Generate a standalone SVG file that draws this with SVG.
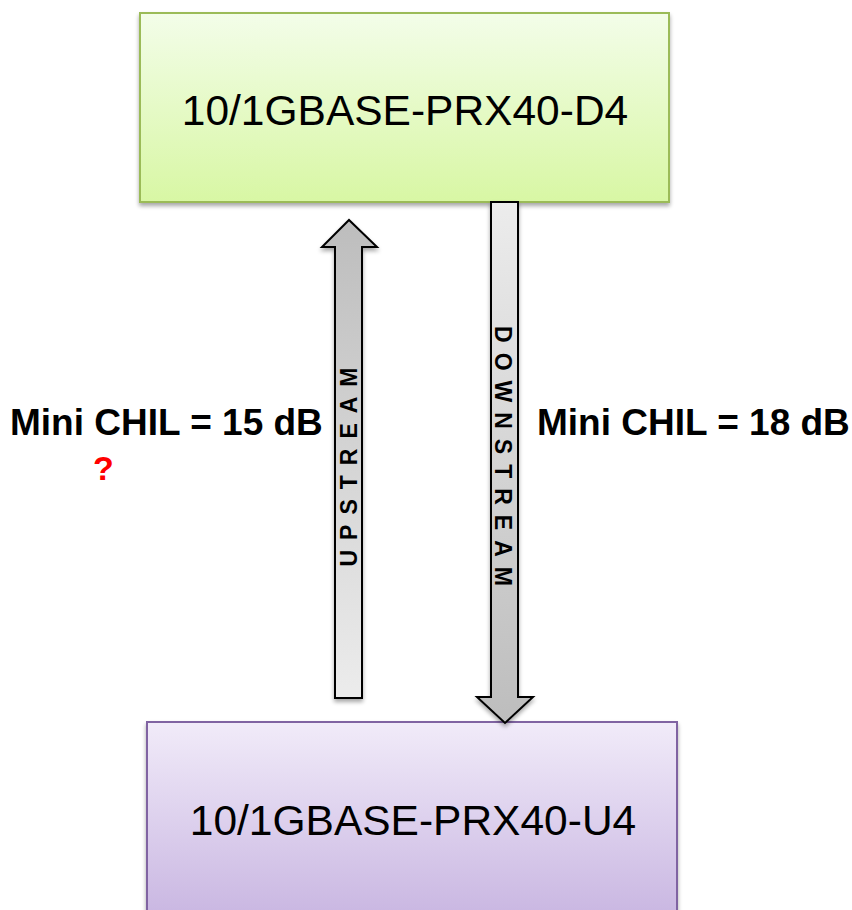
<svg xmlns="http://www.w3.org/2000/svg" width="852" height="910" viewBox="0 0 852 910">
<style>
.box-text{font-family:"Liberation Sans",Arial,sans-serif;font-size:42.5px;fill:#000;text-anchor:middle}
.lbl{font-family:"Liberation Sans",Arial,sans-serif;font-size:37px;font-weight:bold;fill:#000}
.arrow-text{font-family:"Liberation Sans",Arial,sans-serif;font-size:23px;font-weight:bold;fill:#000;letter-spacing:10px;text-anchor:middle}
.arrow{stroke:#000;stroke-width:2;stroke-linejoin:miter}
</style>
<defs>
<linearGradient id="gGreen" x1="0" y1="0" x2="0" y2="1">
<stop offset="0" stop-color="#f3fde9"/>
<stop offset="1" stop-color="#d8f7a4"/>
</linearGradient>
<linearGradient id="gPurple" x1="0" y1="0" x2="0" y2="1">
<stop offset="0" stop-color="#f1ebf9"/>
<stop offset="1" stop-color="#c8b5e1"/>
</linearGradient>
<linearGradient id="gUp" x1="0" y1="0" x2="0" y2="1">
<stop offset="0" stop-color="#bdbdbd"/>
<stop offset="1" stop-color="#ececec"/>
</linearGradient>
<linearGradient id="gDown" x1="0" y1="0" x2="0" y2="1">
<stop offset="0" stop-color="#ececec"/>
<stop offset="1" stop-color="#bdbdbd"/>
</linearGradient>
<filter id="sh" x="-10%" y="-10%" width="120%" height="130%">
<feGaussianBlur in="SourceAlpha" stdDeviation="2"/>
<feOffset dx="0" dy="3" result="b"/>
<feComponentTransfer><feFuncA type="linear" slope="0.35"/></feComponentTransfer>
<feMerge><feMergeNode/><feMergeNode in="SourceGraphic"/></feMerge>
</filter>
</defs>
<rect width="852" height="910" fill="#fff"/>
<g id="node-d4">
<rect x="140" y="13" width="529" height="189" fill="url(#gGreen)" stroke="#9bbb59" stroke-width="2" filter="url(#sh)"/>
<text class="box-text" x="405" y="125">10/1GBASE-PRX40-D4</text>
</g>
<g id="node-u4">
<rect x="147" y="722" width="530" height="200" fill="url(#gPurple)" stroke="#8064a2" stroke-width="2" filter="url(#sh)"/>
<text class="box-text" x="413" y="835">10/1GBASE-PRX40-U4</text>
</g>
<g id="connectors">
<g id="upstream">
<path class="arrow" d="M335,698 L335,247 L322,247 L349,220 L377,247 L362,247 L362,698 Z" fill="url(#gUp)" filter="url(#sh)"/>
<text class="arrow-text" transform="translate(357,467) rotate(-90)" x="5" y="0">UPSTREAM</text>
</g>
<g id="downstream">
<path class="arrow" d="M491,202 L518,202 L518,697 L533,697 L505,723 L477,697 L491,697 Z" fill="url(#gDown)" filter="url(#sh)"/>
<text class="arrow-text" transform="translate(495,456) rotate(90)" x="5" y="0">DOWNSTREAM</text>
</g>
</g>
<g id="labels">
<text class="lbl" x="10" y="435">Mini CHIL = 15 dB</text>
<text class="lbl" x="537" y="435">Mini CHIL = 18 dB</text>
<text x="93" y="480" font-family="Liberation Sans, Arial, sans-serif" font-size="34" font-weight="bold" fill="#ff0000">?</text>
</g>
</svg>
